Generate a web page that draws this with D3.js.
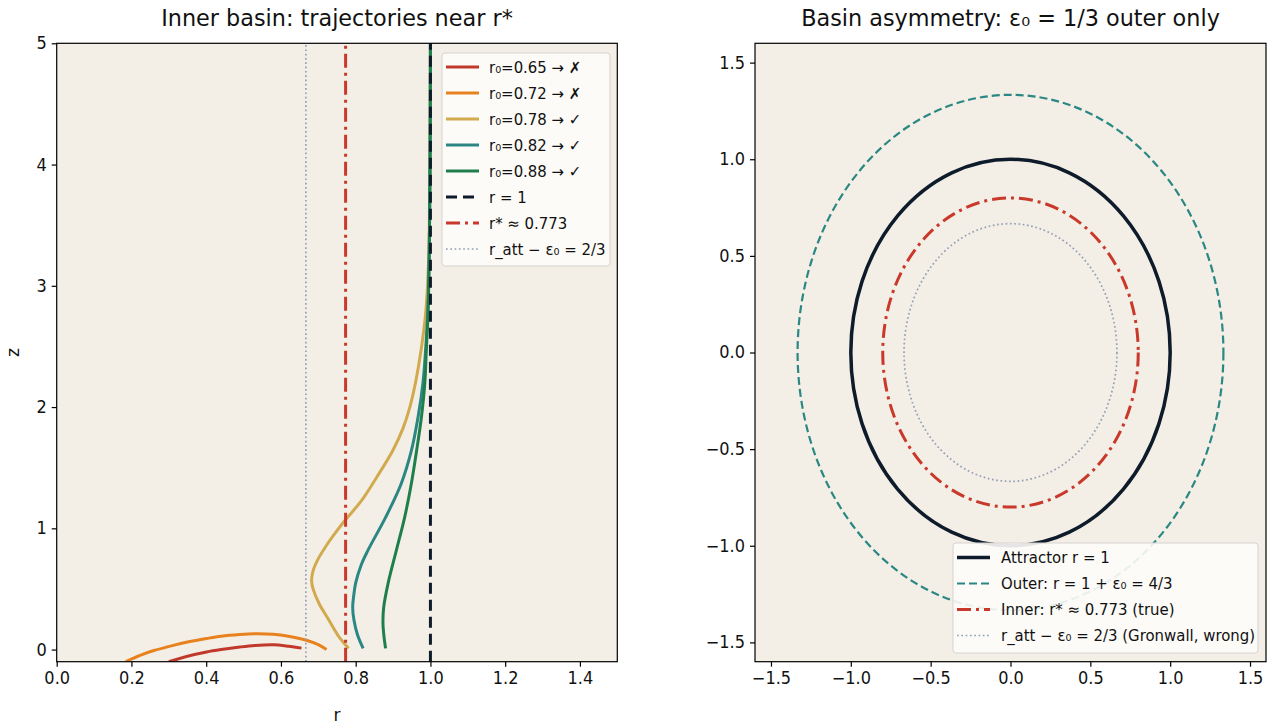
<!DOCTYPE html>
<html><head><meta charset="utf-8">
<script src="https://cdn.jsdelivr.net/npm/d3@7/dist/d3.min.js"></script>
<style>
body{margin:0;background:#fff;}
svg text{font-family:"DejaVu Sans",sans-serif;fill:#111;}
</style></head>
<body><svg id="c" width="1276" height="728"></svg>
<script>
// ---------- data ----------
const leftXTicks = [0.0,0.2,0.4,0.6,0.8,1.0,1.2,1.4];
const leftYTicks = [0,1,2,3,4,5];
const rightTicks = [-1.5,-1.0,-0.5,0.0,0.5,1.0,1.5];

const trajLabels = ["r₀=0.65 → ✗","r₀=0.72 → ✗","r₀=0.78 → ✓","r₀=0.82 → ✓","r₀=0.88 → ✓"];
const trajColors = ["#c0392b","#e8821e","#d2aa4e","#2a8784","#1e7f4c"];
const traj065 = [[0.655,0.012],[0.62,0.028],[0.579,0.040],[0.53,0.034],[0.49,0.021],[0.44,0.0],[0.401,-0.02],[0.35,-0.055],[0.30,-0.10]];
const traj072 = [[0.722,0.0],[0.70,0.04],[0.668,0.077],[0.62,0.11],[0.579,0.126],[0.53,0.13],[0.49,0.124],[0.44,0.11],[0.401,0.091],[0.35,0.062],[0.312,0.035],[0.26,-0.008],[0.223,-0.047],[0.185,-0.10]];
const traj078 = [[0.781,0.01],[0.752,0.12],[0.727,0.25],[0.702,0.38],[0.686,0.50],[0.682,0.57],[0.686,0.65],[0.70,0.75],[0.722,0.86],[0.745,0.96],[0.770,1.06],[0.816,1.23],[0.858,1.43],[0.899,1.64],[0.926,1.82],[0.945,2.00],[0.960,2.20],[0.975,2.47],[0.988,2.80],[0.995,3.20],[0.998,3.80],[1.0,5.0]];
const traj082 = [[0.82,0.01],[0.805,0.12],[0.795,0.25],[0.792,0.35],[0.795,0.45],[0.80,0.55],[0.815,0.70],[0.833,0.82],[0.880,1.09],[0.922,1.37],[0.949,1.64],[0.967,1.92],[0.98,2.20],[0.987,2.47],[0.993,2.80],[0.997,3.30],[0.999,4.0],[1.0,5.0]];
const traj088 = [[0.88,0.01],[0.876,0.10],[0.873,0.22],[0.875,0.35],[0.887,0.55],[0.909,0.82],[0.931,1.09],[0.949,1.37],[0.963,1.64],[0.976,1.92],[0.985,2.20],[0.989,2.47],[0.994,2.80],[0.997,3.30],[0.999,4.0],[1.0,5.0]];
const trajectories = [traj065,traj072,traj078,traj082,traj088];

const vLineR = [1.0, 0.773, 0.6667];
const vLineLabels = ["r = 1","r* ≈ 0.773","r_att − ε₀ = 2/3"];

const circleRadii = [1.0, 1.3333, 0.80, 0.6667];
const circleLabels = ["Attractor r = 1","Outer: r = 1 + ε₀ = 4/3","Inner: r* ≈ 0.773 (true)","r_att − ε₀ = 2/3 (Gronwall, wrong)"];

// ---------- styles ----------
const styleBlack = {stroke:"#0d1b2a", width:3, dash:"11,6"};
const styleRed   = {stroke:"#c9392b", width:3, dash:"14,5,3,5"};
const styleGray  = {stroke:"#93a0b5", width:1.7, dash:"1.7,2.6"};
const vStyles = [styleBlack, styleRed, styleGray];
const cStyles = [
  {stroke:"#0d1b2a", width:3.5, dash:null},
  {stroke:"#2a8784", width:2.2, dash:"8,4"},
  {stroke:"#c9392b", width:3, dash:"14,5,3,5"},
  {stroke:"#93a0b5", width:1.7, dash:"1.7,2.6"}
];
const plotBg = "#f4efe6";
const fTitle = 23.5, fTick = 17, fLabel = 17, fLegend = 15.5;

const svg = d3.select("#c");

// ---------- left panel ----------
const L = {x0:56.7, x1:617.3, y0:43.3, y1:661.7};
const lx = d3.scaleLinear().domain([0,1.5]).range([L.x0,L.x1]);
const ly = d3.scaleLinear().domain([-0.1,5]).range([L.y1,L.y0]);

const gL = svg.append("g");
gL.append("rect").attr("x",L.x0).attr("y",L.y0).attr("width",L.x1-L.x0).attr("height",L.y1-L.y0).attr("fill",plotBg);
svg.append("clipPath").attr("id","clipL").append("rect").attr("x",L.x0).attr("y",L.y0).attr("width",L.x1-L.x0).attr("height",L.y1-L.y0);
const pL = gL.append("g").attr("clip-path","url(#clipL)");
const line = d3.line().x(d=>lx(d[0])).y(d=>ly(d[1])).curve(d3.curveCatmullRom.alpha(0.5));
trajectories.forEach((t,i)=>{
  pL.append("path").attr("d",line(t)).attr("fill","none").attr("stroke",trajColors[i]).attr("stroke-width",3).attr("stroke-linecap","butt");
});
vLineR.forEach((r,i)=>{
  const s=vStyles[i];
  pL.append("line").attr("x1",lx(r)).attr("x2",lx(r)).attr("y1",ly(-0.1)).attr("y2",ly(5))
    .attr("stroke",s.stroke).attr("stroke-width",s.width).attr("stroke-dasharray",s.dash);
});
gL.append("g").attr("transform",`translate(0,${L.y1})`).call(d3.axisBottom(lx).tickValues(leftXTicks).tickFormat(d3.format(".1f")).tickSize(5).tickPadding(5));
gL.append("g").attr("transform",`translate(${L.x0},0)`).call(d3.axisLeft(ly).tickValues(leftYTicks).tickFormat(d3.format("d")).tickSize(5).tickPadding(5));
gL.append("rect").attr("x",L.x0).attr("y",L.y0).attr("width",L.x1-L.x0).attr("height",L.y1-L.y0).attr("fill","none").attr("stroke","#000").attr("stroke-width",1.2);
gL.append("text").attr("class","t sq").attr("x",(L.x0+L.x1)/2).attr("y",26).attr("text-anchor","middle").attr("font-size",fTitle).text("Inner basin: trajectories near r*");
gL.append("text").attr("class","t").attr("x",(L.x0+L.x1)/2).attr("y",721).attr("text-anchor","middle").attr("font-size",fLabel).text("r");
gL.append("text").attr("class","t").attr("transform",`translate(19,${(L.y0+L.y1)/2}) rotate(-90)`).attr("text-anchor","middle").attr("font-size",fLabel).text("z");

// left legend
const lgL = gL.append("g");
lgL.append("rect").attr("x",442).attr("y",53).attr("width",168).attr("height",213).attr("rx",3)
  .attr("fill","#fdfcfa").attr("fill-opacity",0.9).attr("stroke","#d6d3ce").attr("stroke-width",1);
const leftEntries = trajLabels.map((l,i)=>({label:l, s:{stroke:trajColors[i],width:3,dash:null}}))
  .concat(vLineLabels.map((l,i)=>({label:l, s:vStyles[i]})));
leftEntries.forEach((e,i)=>{
  const y = 67 + i*26;
  lgL.append("line").attr("x1",446).attr("x2",479).attr("y1",y).attr("y2",y)
    .attr("stroke",e.s.stroke).attr("stroke-width",e.s.width).attr("stroke-dasharray",e.s.dash);
  lgL.append("text").attr("class","t lg").attr("x",489).attr("y",y+5.5).attr("font-size",fLegend).text(e.label);
});

// ---------- right panel ----------
const R = {x0:755, x1:1266, y0:43.3, y1:661.7};
const rx = d3.scaleLinear().domain([-1.6,1.6]).range([R.x0,R.x1]);
const ry = d3.scaleLinear().domain([-1.6,1.6]).range([R.y1,R.y0]);
const gR = svg.append("g");
gR.append("rect").attr("x",R.x0).attr("y",R.y0).attr("width",R.x1-R.x0).attr("height",R.y1-R.y0).attr("fill",plotBg);
circleRadii.forEach((r,i)=>{
  const s=cStyles[i];
  gR.append("ellipse").attr("cx",rx(0)).attr("cy",ry(0)).attr("rx",rx(r)-rx(0)).attr("ry",ry(0)-ry(r))
    .attr("fill","none").attr("stroke",s.stroke).attr("stroke-width",s.width).attr("stroke-dasharray",s.dash);
});
const fmtR = d=>d3.format(".1f")(d).replace("-","−");
gR.append("g").attr("transform",`translate(0,${R.y1})`).call(d3.axisBottom(rx).tickValues(rightTicks).tickFormat(fmtR).tickSize(5).tickPadding(5));
gR.append("g").attr("transform",`translate(${R.x0},0)`).call(d3.axisLeft(ry).tickValues(rightTicks).tickFormat(fmtR).tickSize(5).tickPadding(5));
gR.append("rect").attr("x",R.x0).attr("y",R.y0).attr("width",R.x1-R.x0).attr("height",R.y1-R.y0).attr("fill","none").attr("stroke","#000").attr("stroke-width",1.2);
gR.append("text").attr("class","t sq").attr("x",(R.x0+R.x1)/2).attr("y",26).attr("text-anchor","middle").attr("font-size",fTitle).text("Basin asymmetry: ε₀ = 1/3 outer only");

const lgR = gR.append("g");
lgR.append("rect").attr("x",953).attr("y",543).attr("width",305).attr("height",110).attr("rx",3)
  .attr("fill","#fdfcfa").attr("fill-opacity",0.9).attr("stroke","#d6d3ce").attr("stroke-width",1);
circleLabels.forEach((l,i)=>{
  const y = 557.5 + i*26;
  const s=cStyles[i];
  lgR.append("line").attr("x1",957).attr("x2",990).attr("y1",y).attr("y2",y)
    .attr("stroke",s.stroke).attr("stroke-width",s.width).attr("stroke-dasharray",s.dash);
  lgR.append("text").attr("class","t lg").attr("x",1001).attr("y",y+5.5).attr("font-size",fLegend).text(l);
});

// axis styling
svg.selectAll(".domain").attr("stroke","none");
svg.selectAll(".tick line").attr("stroke","#000").attr("stroke-width",1.2);
svg.selectAll(".tick text").attr("font-size",fTick).attr("fill","#111").attr("font-family","DejaVu Sans").classed("tk",true);

// slightly condensed glyphs as in the reference
function squeeze(sel, k){
  sel.each(function(){
    const w = this.getComputedTextLength();
    d3.select(this).attr("textLength", w*k).attr("lengthAdjust","spacingAndGlyphs");
  });
}
squeeze(svg.selectAll("text.sq"), 0.95);
squeeze(svg.selectAll("text.lg"), 0.963);
squeeze(svg.selectAll("text.tk"), 0.95);
</script></body></html>
